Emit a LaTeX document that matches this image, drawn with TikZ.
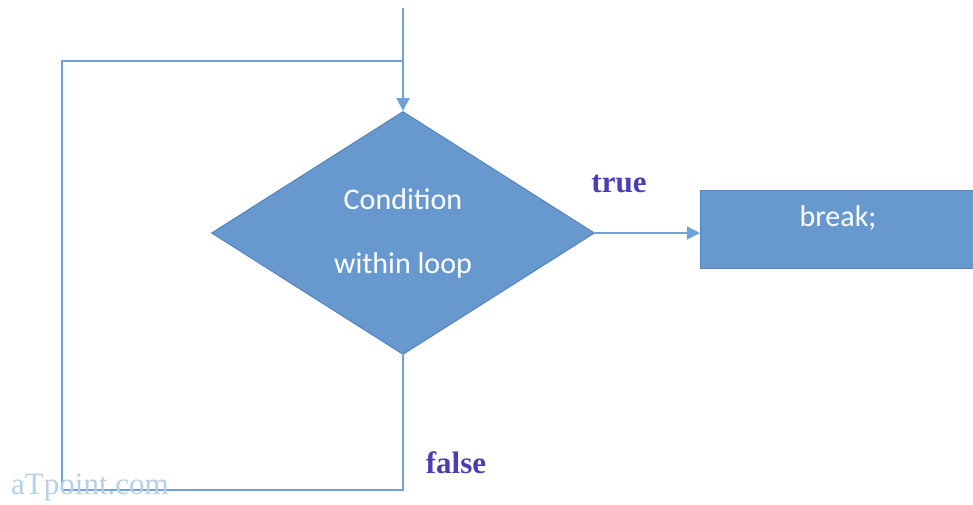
\documentclass[tikz,border=0pt]{standalone}
\usepackage{fontspec}
\setmainfont{Liberation Serif}
\newfontfamily\carlito{Carlito}
\usetikzlibrary{shapes.geometric, arrows.meta}
\definecolor{flowblue}{HTML}{6799CF}
\definecolor{edgeblue}{HTML}{5484BA}
\definecolor{lineblue}{HTML}{6EA2DA}
\definecolor{labelblue}{HTML}{4A3FB2}
\definecolor{markblue}{HTML}{B4D0E6}

\begin{document}
\begin{tikzpicture}[x=1pt, y=-1pt, >={Triangle[width=13pt,length=13pt]},
  flow/.style={line width=2pt, draw=lineblue},
  decision/.style={diamond, aspect=1.576, draw=edgeblue, fill=flowblue, line width=1pt,
    minimum width=383pt, minimum height=243pt, inner sep=0pt,
    text=white, font=\carlito\fontsize{30}{64}\selectfont, align=center},
  process/.style={rectangle, draw=edgeblue, fill=flowblue, line width=1pt,
    minimum width=276pt, minimum height=78pt, inner sep=0pt},
  boxtext/.style={text=white, font=\carlito\fontsize{30}{36}\selectfont},
  answer/.style={text=labelblue, font=\bfseries\fontsize{31}{36}\selectfont}]
  \useasboundingbox (0,0) rectangle (973,504);
  % Points of the loop
  \coordinate (entry) at (403,8);
  \coordinate (join) at (403,61);
  \coordinate (looptl) at (62,61);
  \coordinate (loopbr) at (403,490);
  % Shapes
  \node[decision] (cond) at (403,233) {Condition\\within loop};
  \node[process, anchor=north west] (brk) at (700,190) {};
  \node[boxtext] (brktext) at (838,218) {break;};
  % Connectors
  \draw[flow, ->] (entry) -- (cond.north);
  \draw[flow] (cond.south) -- (loopbr) -| (looptl) -- (join);
  \draw[flow, ->] (cond.east) -- (cond.east -| brk.west);
  % Labels
  \node[answer] (truelbl) at (619,184) {true};
  \node[answer] (falselbl) at (456,463) {false};
  \node[text=markblue, font=\fontsize{31}{36}\selectfont] (mark) at (90,488) {aTpoint.com};
\end{tikzpicture}
\end{document}
